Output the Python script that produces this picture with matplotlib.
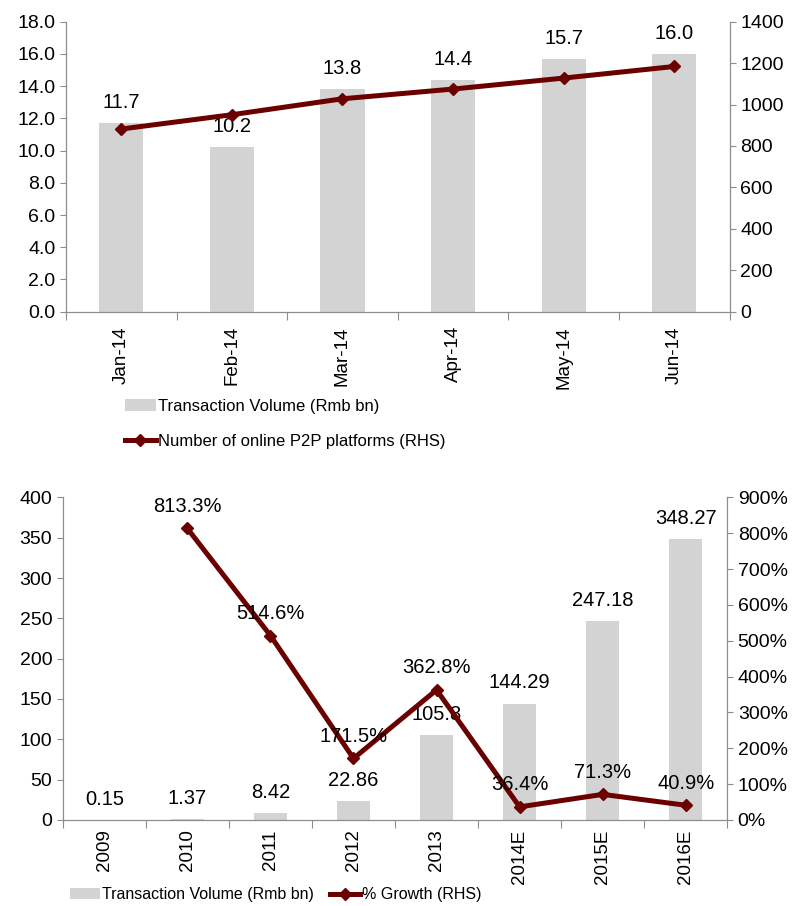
import numpy as np
import matplotlib.pyplot as plt

plt.rcParams['font.family'] = ['Liberation Sans', 'DejaVu Sans']

months = ["Jan-14", "Feb-14", "Mar-14", "Apr-14", "May-14", "Jun-14"]
volume_m = [11.7, 10.2, 13.8, 14.4, 15.7, 16.0]
platforms = [882, 951, 1028, 1075, 1128, 1184]

years = ["2009", "2010", "2011", "2012", "2013", "2014E", "2015E", "2016E"]
volume_y = [0.15, 1.37, 8.42, 22.86, 105.8, 144.29, 247.18, 348.27]
vol_labels = ["0.15", "1.37", "8.42", "22.86", "105.8", "144.29", "247.18", "348.27"]
growth = [np.nan, 813.3, 514.6, 171.5, 362.8, 36.4, 71.3, 40.9]

bar_c = "#d3d3d3"
line_c = "#6b0000"
spine_c = "#8c8c8c"
fs_tick = 14
fs_lab = 14.5
fs_x = 13.5

fig = plt.figure(figsize=(7.94, 9.06), dpi=100)


def style(ax, ax2, n):
    ax.spines["top"].set_visible(False)
    ax2.spines["top"].set_visible(False)
    for a in (ax, ax2):
        for s in ["left", "right", "bottom"]:
            a.spines[s].set_color(spine_c)
    ax.set_xlim(-0.5, n - 0.5)
    ax.set_xticks(np.arange(n + 1) - 0.5)
    ax.set_xticklabels([])
    ax.tick_params(axis="x", length=6, color=spine_c)
    ax.tick_params(axis="y", length=4, color=spine_c, labelsize=fs_tick)
    ax2.tick_params(axis="y", length=4, color=spine_c, labelsize=fs_tick)


# top chart
ax = fig.add_axes([0.083, 0.656, 0.836, 0.32])
ax2 = ax.twinx()
x = np.arange(len(months))
bars = ax.bar(x, volume_m, width=0.4, color=bar_c, label="Transaction Volume (Rmb bn)")
ax.set_ylim(0, 18)
ax.set_yticks(np.arange(0, 18.1, 2))
ax.set_yticklabels([f"{v:.1f}" for v in np.arange(0, 18.1, 2)])
for xi, v in zip(x, volume_m):
    ax.annotate(f"{v:.1f}", (xi, v), xytext=(0, 8), textcoords="offset points",
                ha="center", va="bottom", fontsize=fs_lab)
ln, = ax2.plot(x, platforms, color=line_c, lw=3.6, marker="D", ms=6,
               label="Number of online P2P platforms (RHS)")
ax2.set_ylim(0, 1400)
ax2.set_yticks(np.arange(0, 1401, 200))
style(ax, ax2, len(months))
for xi, m in zip(x, months):
    ax.text(xi, -0.9, m, rotation=90, ha="center", va="top", fontsize=fs_x)
fig.legend([bars, ln], [bars.get_label(), ln.get_label()], loc="upper left",
           bbox_to_anchor=(0.138, 0.576), frameon=False, fontsize=12,
           handlelength=1.9, handletextpad=0.1, labelspacing=1.2)

# bottom chart
bx = fig.add_axes([0.079, 0.095, 0.837, 0.356])
bx2 = bx.twinx()
x = np.arange(len(years))
bars2 = bx.bar(x, volume_y, width=0.4, color=bar_c, label="Transaction Volume (Rmb bn)")
bx.set_ylim(0, 400)
bx.set_yticks(np.arange(0, 401, 50))
for xi, v, t in zip(x, volume_y, vol_labels):
    bx.annotate(t, (xi, v), xytext=(0, 8), textcoords="offset points",
                ha="center", va="bottom", fontsize=fs_lab)
ln2, = bx2.plot(x, growth, color=line_c, lw=3.6, marker="D", ms=6,
                label="% Growth (RHS)")
for xi, g in zip(x, growth):
    if not np.isnan(g):
        bx2.annotate(f"{g:.1f}%", (xi, g), xytext=(0, 9), textcoords="offset points",
                     ha="center", va="bottom", fontsize=fs_lab)
bx2.set_ylim(0, 900)
bx2.set_yticks(np.arange(0, 901, 100))
bx2.set_yticklabels([f"{v}%" for v in range(0, 901, 100)])
style(bx, bx2, len(years))
for xi, yl in zip(x, years):
    bx.text(xi, -12, yl, rotation=90, ha="center", va="top", fontsize=fs_x)
fig.legend([bars2, ln2], [bars2.get_label(), ln2.get_label()], loc="lower left",
           bbox_to_anchor=(0.07, -0.012), frameon=False, ncol=2, fontsize=11.5,
           handlelength=1.9, handletextpad=0.1, columnspacing=1.0)

fig.savefig("out.png", dpi=100)
